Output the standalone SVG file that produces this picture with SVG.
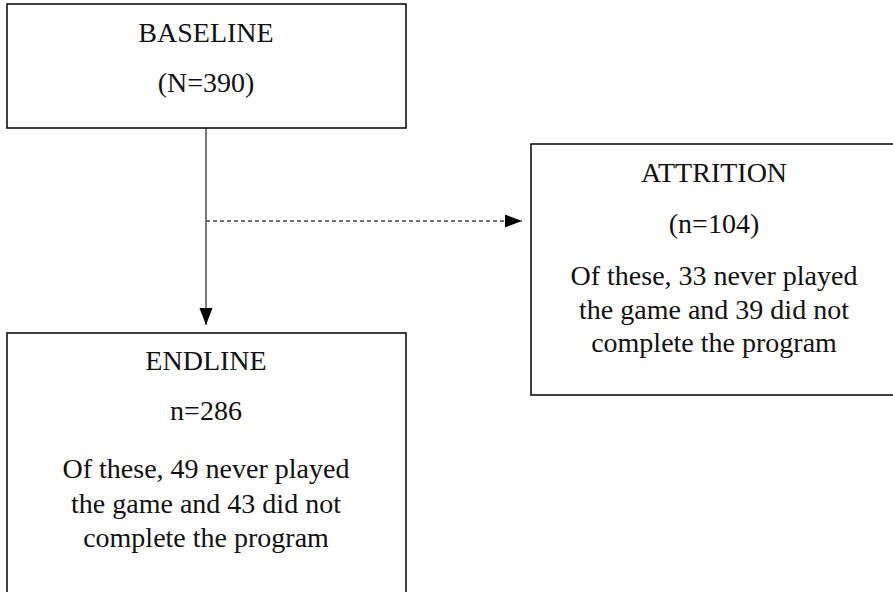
<svg xmlns="http://www.w3.org/2000/svg" width="893" height="592" viewBox="0 0 893 592">
<style>
.box{fill:#fff;stroke:#111;stroke-width:1.6}
.t{font-family:"Liberation Serif","Times New Roman",serif;font-size:28px;fill:#111;text-anchor:middle}
.c{stroke:#444;stroke-width:1.4;fill:none}
.d{stroke-dasharray:4 3}
</style>
<defs>
<marker id="ah" markerUnits="userSpaceOnUse" markerWidth="18" markerHeight="14" refX="17" refY="6.5" orient="auto">
<path d="M0,0 L17,6.5 L0,13 Z" fill="#000"/>
</marker>
</defs>
<rect width="893" height="592" fill="#fff"/>
<g id="connectors">
<line class="c" x1="206" y1="128" x2="206" y2="325" marker-end="url(#ah)"/>
<line class="c d" x1="206" y1="221" x2="522" y2="221" marker-end="url(#ah)"/>
</g>
<g id="baseline">
<rect class="box" x="7" y="4" width="399" height="124"/>
<text class="t" x="206" y="42">BASELINE</text>
<text class="t" x="206" y="92">(N=390)</text>
</g>
<g id="attrition">
<rect class="box" x="531" y="144" width="366" height="251"/>
<text class="t" x="714" y="182">ATTRITION</text>
<text class="t" x="714" y="233">(n=104)</text>
<text class="t" x="714" y="285">Of these, 33 never played</text>
<text class="t" x="714" y="319">the game and 39 did not</text>
<text class="t" x="714" y="352">complete the program</text>
</g>
<g id="endline">
<rect class="box" x="7" y="333" width="399" height="270"/>
<text class="t" x="206" y="370">ENDLINE</text>
<text class="t" x="206" y="420">n=286</text>
<text class="t" x="206" y="478">Of these, 49 never played</text>
<text class="t" x="206" y="513">the game and 43 did not</text>
<text class="t" x="206" y="547">complete the program</text>
</g>
</svg>
